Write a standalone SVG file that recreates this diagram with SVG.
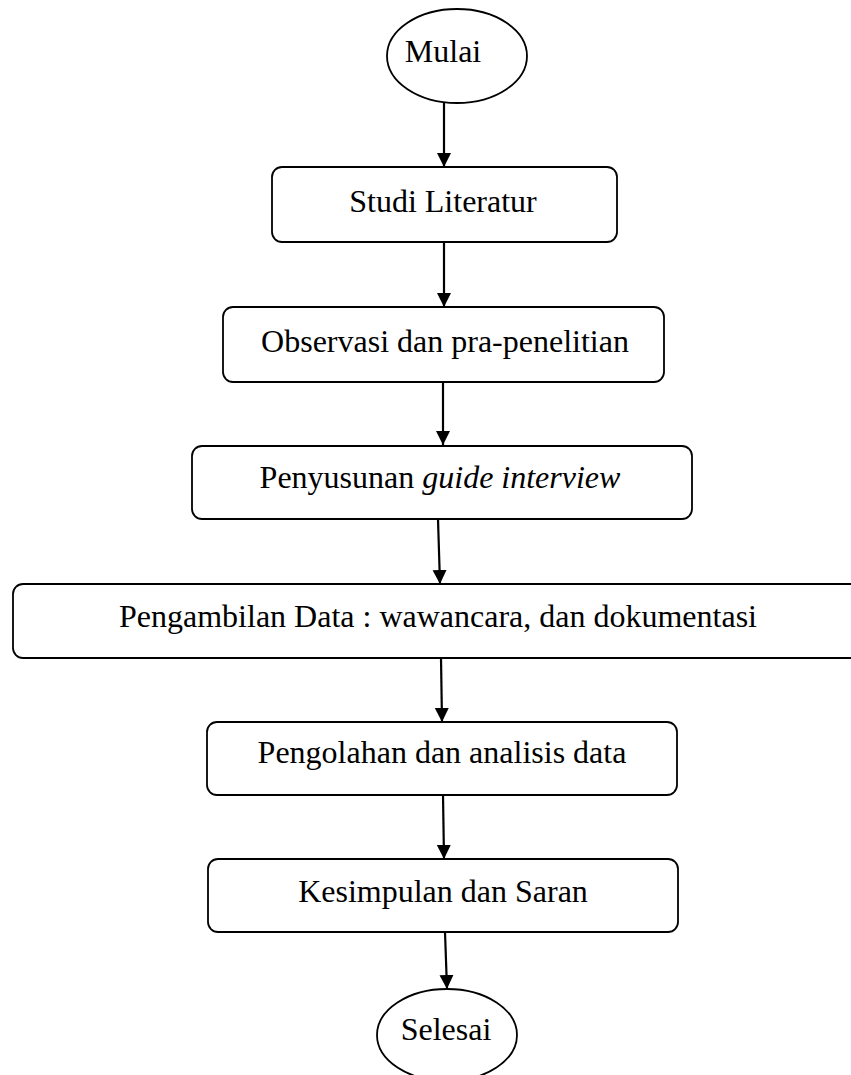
<svg xmlns="http://www.w3.org/2000/svg" width="851" height="1075" viewBox="0 0 851 1075">
<style>
.n{fill:#fff;stroke:#000;stroke-width:1.8}
.t{font-family:"Liberation Serif","Times New Roman",serif;font-size:32px;fill:#000;text-anchor:middle}
.c{stroke:#000;stroke-width:2.2;fill:none;marker-end:url(#ah)}
</style>
<defs>
<marker id="ah" markerWidth="14" markerHeight="16" refX="14" refY="7" orient="auto" markerUnits="userSpaceOnUse">
<path d="M0,0 L14,7 L0,14 Z" fill="#000"/>
</marker>
</defs>
<rect width="851" height="1075" fill="#fff"/>
<g id="connectors">
<line class="c" x1="444" y1="103" x2="444" y2="167"/>
<line class="c" x1="444" y1="242" x2="444" y2="307"/>
<line class="c" x1="443" y1="382" x2="443" y2="445"/>
<line class="c" x1="438" y1="519" x2="440" y2="584"/>
<line class="c" x1="441" y1="658" x2="442" y2="722"/>
<line class="c" x1="443" y1="795" x2="444" y2="859"/>
<line class="c" x1="445" y1="932" x2="447" y2="989"/>
</g>
<g id="mulai">
<ellipse class="n" cx="457" cy="56" rx="70" ry="47"/>
<text class="t" x="443" y="62">Mulai</text>
</g>
<g id="studi">
<rect class="n" x="272" y="167" width="345" height="75" rx="10"/>
<text class="t" x="443" y="212">Studi Literatur</text>
</g>
<g id="observasi">
<rect class="n" x="223" y="307" width="441" height="75" rx="10"/>
<text class="t" x="445" y="352">Observasi dan pra-penelitian</text>
</g>
<g id="penyusunan">
<rect class="n" x="192" y="446" width="500" height="73" rx="10"/>
<text class="t" x="440" y="488">Penyusunan <tspan font-style="italic">guide interview</tspan></text>
</g>
<g id="pengambilan">
<rect class="n" x="13" y="584" width="850" height="74" rx="10"/>
<text class="t" x="438" y="627">Pengambilan Data : wawancara, dan dokumentasi</text>
</g>
<g id="pengolahan">
<rect class="n" x="207" y="722" width="470" height="73" rx="10"/>
<text class="t" x="442" y="763">Pengolahan dan analisis data</text>
</g>
<g id="kesimpulan">
<rect class="n" x="208" y="859" width="470" height="73" rx="10"/>
<text class="t" x="443" y="902">Kesimpulan dan Saran</text>
</g>
<g id="selesai">
<ellipse class="n" cx="447" cy="1035" rx="70" ry="46"/>
<text class="t" x="446" y="1040">Selesai</text>
</g>
</svg>
